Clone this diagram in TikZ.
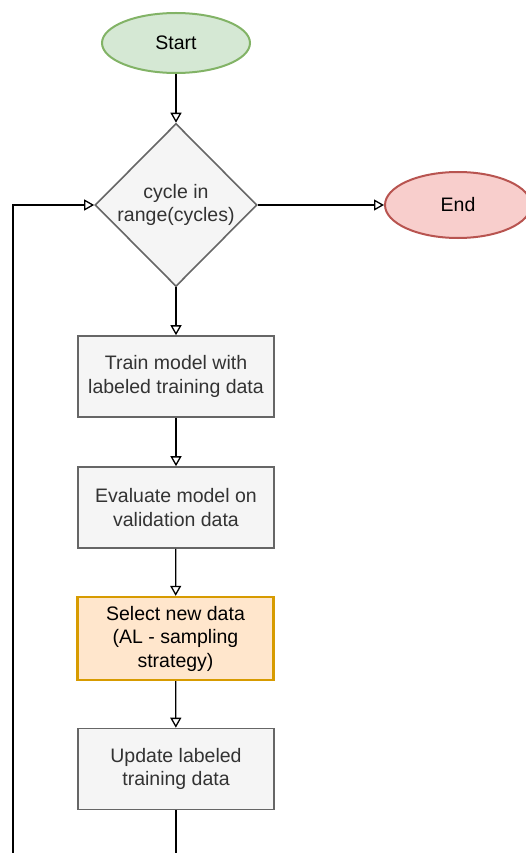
\documentclass[tikz,border=0pt]{standalone}
\usepackage{fontspec}
\setmainfont{Liberation Sans}
\usetikzlibrary{shapes.geometric,arrows.meta}
\definecolor{startfill}{HTML}{D5E8D4}
\definecolor{startline}{HTML}{82B366}
\definecolor{endfill}{HTML}{F8CECC}
\definecolor{endline}{HTML}{B85450}
\definecolor{greyfill}{HTML}{F5F5F5}
\definecolor{greyline}{HTML}{666666}
\definecolor{greytext}{HTML}{333333}
\definecolor{selfill}{HTML}{FFE6CC}
\definecolor{selline}{HTML}{D79B00}
\tikzset{
  lbl/.style={font=\fontsize{19.5}{23.5}\selectfont, align=center},
  terminal/.style={lbl, ellipse, line width=2pt, inner sep=0pt},
  procbox/.style={lbl, rectangle, draw=greyline, fill=greyfill, text=greytext, line width=1.6pt, minimum width=196pt, minimum height=81pt, inner sep=0pt},
  conn/.style={line width=1.3pt, -{Triangle[open, length=10pt, width=11pt, line width=1.3pt]}},
}
\begin{document}
\begin{tikzpicture}[x=1pt,y=-1pt]
\useasboundingbox (0,0) rectangle (526,853);
\node[terminal, draw=startline, fill=startfill, minimum width=148pt, minimum height=60pt] (start) at (176,43) {Start};
\node[lbl, diamond, draw=greyline, fill=greyfill, text=greytext, line width=1.6pt, minimum width=162pt, minimum height=163pt, inner sep=0pt] (cyc) at (176,205) {cycle in\\range(cycles)};
\node[terminal, draw=endline, fill=endfill, minimum width=146pt, minimum height=66pt] (end) at (458,205) {End};
\node[procbox] (train) at (176,376.5) {Train model with\\labeled training data};
\node[procbox] (eval) at (176,507.5) {Evaluate model on\\validation data};
\node[procbox, draw=selline, fill=selfill, text=black, line width=2.4pt, minimum height=83pt] (sel) at (175.5,638.5) {Select new data\\(AL - sampling\\strategy)};
\node[procbox] (upd) at (176,769) {Update labeled\\training data};
\coordinate (loopA) at (176,880);
\coordinate (loopB) at (13,880);
\coordinate (loopC) at (13,205);
\draw[conn] (start) -- (cyc);
\draw[conn] (cyc) -- (end);
\draw[conn] (cyc) -- (train);
\draw[conn] (train) -- (eval);
\draw[conn] (eval) -- (sel);
\draw[conn] (sel) -- (upd);
\draw[conn] (upd) -- (loopA) -- (loopB) -- (loopC) -- (cyc);
\end{tikzpicture}
\end{document}
